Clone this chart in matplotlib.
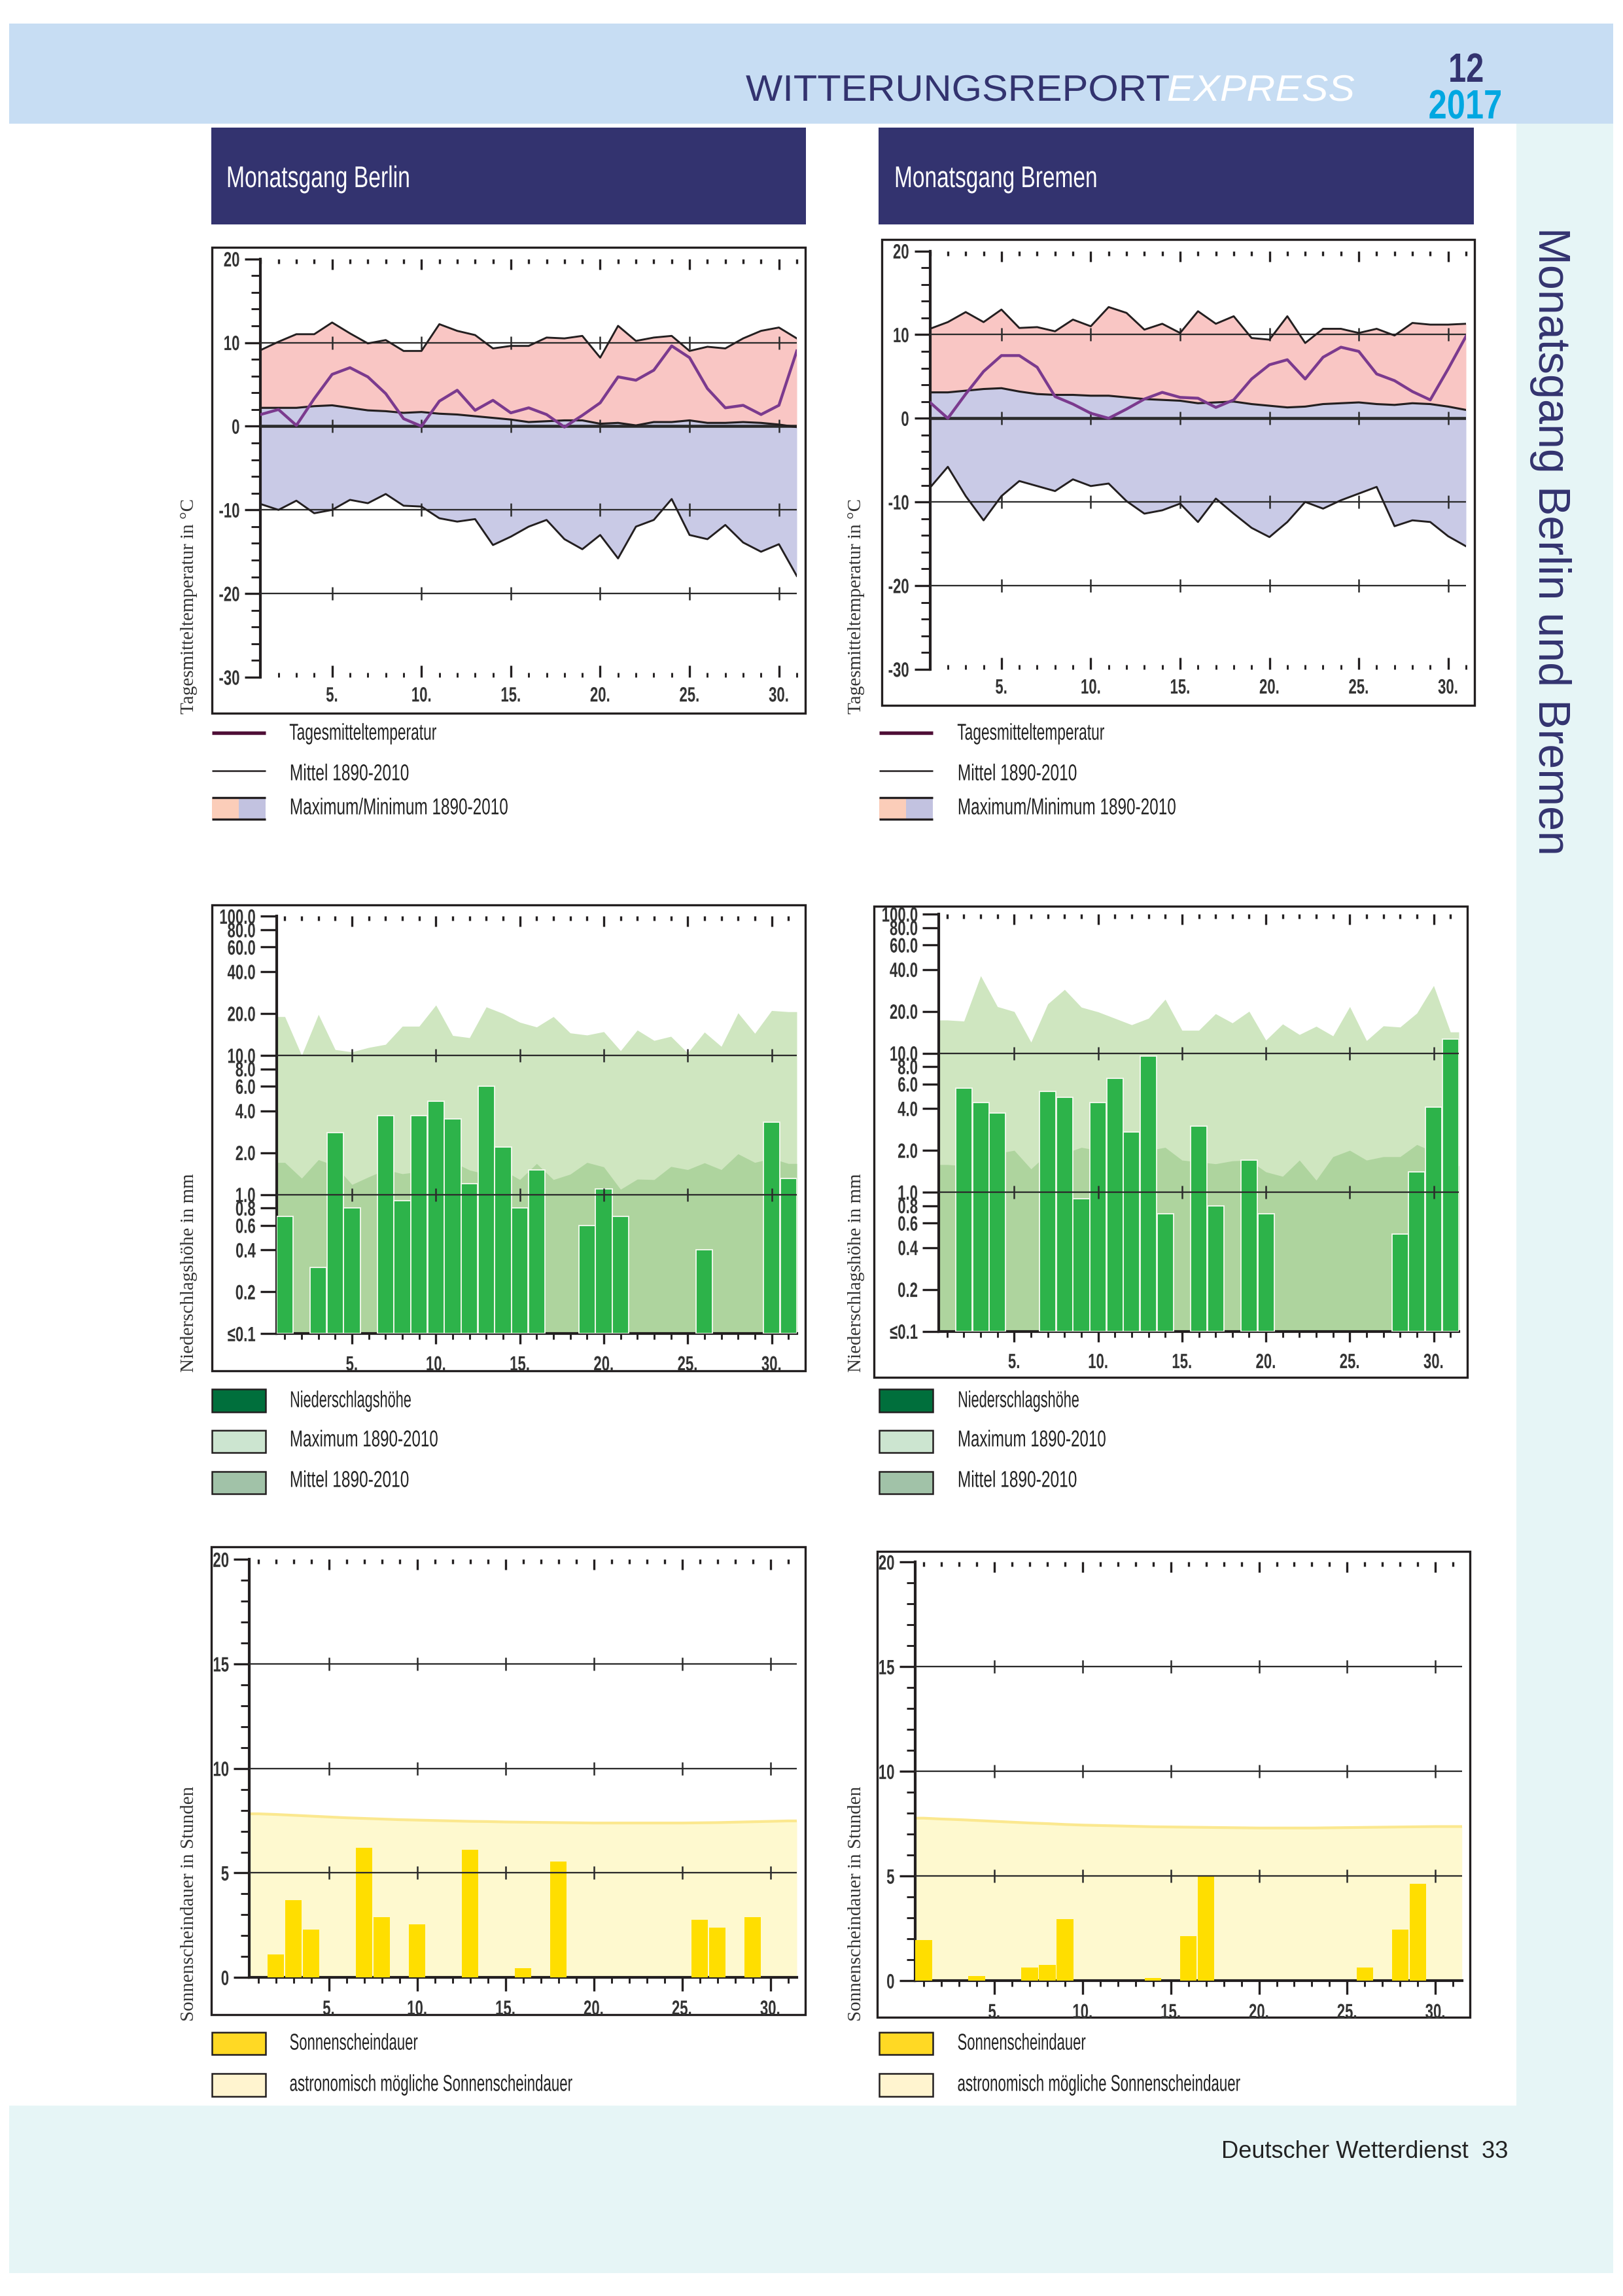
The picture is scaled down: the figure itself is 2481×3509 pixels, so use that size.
#!/usr/bin/env python3
"""Witterungsreport Express 12/2017: Monatsgang Berlin und Bremen (one page, six charts)."""
import numpy as np
import matplotlib
matplotlib.use("Agg")
import matplotlib.pyplot as plt
from matplotlib.patches import Rectangle
from matplotlib.patheffects import AbstractPathEffect
from matplotlib.transforms import Affine2D

W, H = 2481, 3509
DPI = 300
SANS = ["Liberation Sans", "DejaVu Sans"]
SERIF = ["Liberation Serif", "DejaVu Serif"]

NAVY = "#33336F"
INK = "#231F20"
PALE = "#E6F5F6"

DAYS = np.arange(1, 32)
MAJOR_DAYS = [5, 10, 15, 20, 25, 30]
MAJOR_LABELS = ["5.", "10.", "15.", "20.", "25.", "30."]
MINOR_DAYS = [d for d in DAYS if d % 5 != 0]

# temperature, deg C
ber_tmax = [9.1, 10.1, 11, 11, 12.4, 11.1, 9.9, 10.3, 9.0, 9.0, 12.2, 11.4, 10.9, 9.3, 9.6, 9.6,
            10.6, 10.5, 10.8, 8.2, 12, 10.2, 10.6, 10.8, 9.0, 9.5, 9.3, 10.5, 11.4, 11.8, 10.5]
ber_tmean = [2.2, 2.2, 2.2, 2.4, 2.5, 2.2, 1.9, 1.8, 1.6, 1.7, 1.5, 1.4, 1.2, 1.0, 0.8, 0.5,
             0.6, 0.7, 0.7, 0.3, 0.4, 0.1, 0.5, 0.5, 0.7, 0.4, 0.4, 0.5, 0.4, 0.2, -0.1]
ber_tmin = [-9.3, -10, -8.9, -10.4, -10, -8.8, -9.2, -8.1, -9.5, -9.6, -11, -11.4, -11.1, -14.2,
            -13.2, -12, -11.2, -13.5, -14.7, -13, -15.8, -12, -11.2, -8.7, -13, -13.5, -11.8,
            -13.9, -15, -14.1, -17.9]
ber_temp = [1.4, 2.0, 0.1, 3.3, 6.2, 7.0, 5.9, 3.9, 0.9, 0.0, 3.0, 4.3, 1.9, 3.1, 1.6, 2.2,
            1.4, -0.1, 1.3, 2.8, 5.9, 5.5, 6.7, 9.6, 8.2, 4.5, 2.2, 2.5, 1.4, 2.5, 9.0]

bre_tmax = [10.7, 11.5, 12.7, 11.5, 13, 10.8, 10.9, 10.4, 11.8, 11, 13.3, 12.6, 10.6, 11.3, 10.2,
            12.8, 11.3, 12.2, 9.6, 9.4, 12.2, 9, 10.7, 10.7, 10.2, 10.7, 9.9, 11.4, 11.2, 11.2, 11.3]
bre_tmean = [3.1, 3.1, 3.3, 3.5, 3.6, 3.2, 2.9, 2.8, 2.8, 2.7, 2.7, 2.5, 2.3, 2.2, 2.1, 1.8,
             1.9, 2.0, 1.7, 1.5, 1.3, 1.4, 1.7, 1.8, 1.9, 1.7, 1.6, 1.8, 1.7, 1.4, 1.0]
bre_tmin = [-8.3, -5.8, -9.3, -12.2, -9.3, -7.5, -8.1, -8.7, -7.3, -8.1, -7.8, -9.9, -11.4, -11,
            -10.2, -12.4, -9.6, -11.4, -13.1, -14.2, -12.4, -10, -10.8, -9.8, -9, -8.2, -12.9,
            -12.2, -12.4, -14.1, -15.3]
bre_temp = [1.9, 0, 2.9, 5.6, 7.5, 7.5, 6.1, 2.6, 1.7, 0.6, 0.0, 1.1, 2.3, 3.1, 2.5, 2.4,
            1.3, 2.2, 4.7, 6.4, 7, 4.7, 7.3, 8.5, 8.0, 5.3, 4.5, 3.2, 2.2, 5.9, 9.8]

# precipitation, mm (log axis); 0 = no bar
ber_rmax = [19, 10, 19.7, 11, 10.6, 11.4, 12, 16.2, 16.2, 23, 13.9, 13.4, 22.3, 20, 17.3, 16,
            19, 14.5, 14, 14.8, 10.8, 15.2, 12.8, 13.7, 10.4, 14.7, 11.6, 20.2, 14.4, 21, 20.6]
ber_rmean = [1.7, 1.31, 1.78, 1.61, 1.18, 1.34, 1.51, 1.41, 1.46, 1.6, 1.72, 1.5, 1.4, 1.5, 1.28,
             1.67, 1.28, 1.4, 1.7, 1.58, 1.09, 1.29, 1.28, 1.59, 1.51, 1.69, 1.51, 1.96, 1.7, 1.82, 1.67]
ber_rain = [0.7, 0, 0.3, 2.8, 0.8, 0, 3.7, 0.9, 3.7, 4.7, 3.5, 1.2, 6.0, 2.2, 0.8, 1.5,
            0, 0, 0.6, 1.1, 0.7, 0, 0, 0, 0, 0.4, 0, 0, 0, 3.3, 1.3]

bre_rmax = [17.3, 17, 36, 21.6, 19.9, 12, 22.6, 28.7, 21.4, 19.8, 17.8, 16, 17.8, 24.4, 14.6, 14.6,
            19.2, 16.5, 20, 12.4, 16.2, 13.6, 15.6, 13.3, 21.6, 12.3, 15.7, 15.4, 19.4, 30.6, 14.2]
bre_rmean = [1.58, 1.55, 1.77, 1.9, 2.0, 1.47, 1.9, 1.9, 2.1, 2.0, 1.77, 1.77, 2.0, 2.1, 1.7, 1.65,
             1.6, 1.68, 1.7, 1.4, 1.3, 1.7, 1.22, 1.8, 2.0, 1.7, 1.8, 1.8, 2.2, 1.95, 1.55]
bre_rain = [0, 5.6, 4.4, 3.7, 0, 0, 5.3, 4.8, 0.9, 4.4, 6.6, 2.7, 9.5, 0.7, 0, 3.0,
            0.8, 0, 1.7, 0.7, 0, 0, 0, 0, 0, 0, 0, 0.5, 1.4, 4.1, 12.6]

RAIN_TICKS = [100, 80, 60, 40, 20, 10, 8, 6, 4, 2, 1, 0.8, 0.6, 0.4, 0.2, 0.1]
RAIN_LABELS = ["100.0", "80.0", "60.0", "40.0", "20.0", "10.0", "8.0", "6.0", "4.0", "2.0",
               "1.0", "0.8", "0.6", "0.4", "0.2", "≤0.1"]

# sunshine, hours
ber_sun = [0, 1.1, 3.7, 2.3, 0, 0, 6.2, 2.9, 0, 2.55, 0, 0, 6.1, 0, 0, 0.43,
           0, 5.55, 0, 0, 0, 0, 0, 0, 0, 2.75, 2.4, 0, 2.9, 0, 0]
ber_astro = [7.83, 7.80, 7.76, 7.72, 7.68, 7.64, 7.61, 7.58, 7.55, 7.53, 7.51, 7.49, 7.47, 7.46, 7.44,
             7.43, 7.42, 7.41, 7.40, 7.39, 7.39, 7.39, 7.39, 7.39, 7.39, 7.40, 7.41, 7.43, 7.45, 7.47, 7.49]
bre_sun = [1.95, 0, 0, 0.23, 0, 0, 0.63, 0.75, 2.95, 0, 0, 0, 0, 0.14, 0, 2.13,
           4.97, 0, 0, 0, 0, 0, 0, 0, 0, 0.65, 0, 2.44, 4.65, 0, 0]
bre_astro = [7.77, 7.73, 7.70, 7.66, 7.62, 7.58, 7.54, 7.51, 7.47, 7.44, 7.42, 7.40, 7.38, 7.36, 7.35,
             7.34, 7.33, 7.32, 7.31, 7.30, 7.30, 7.30, 7.30, 7.31, 7.32, 7.33, 7.34, 7.35, 7.36, 7.37, 7.37]


class Squeeze(AbstractPathEffect):
    """No condensed font is installed, so squeeze the glyphs sideways when drawing."""

    def __init__(self, sx, anchor="left"):
        super().__init__()
        self.sx, self.anchor = sx, anchor

    def draw_path(self, renderer, gc, tpath, affine, rgbFace=None):
        ext = tpath.get_extents()
        fix = {"left": ext.x0, "center": (ext.x0 + ext.x1) / 2, "right": ext.x1}[self.anchor]
        squeeze = Affine2D().translate(-fix, 0).scale(self.sx, 1).translate(fix, 0)
        renderer.draw_path(gc, tpath, squeeze + affine, rgbFace)


fig = plt.figure(figsize=(W / DPI, H / DPI), dpi=DPI, facecolor="white")

# page layer in pixel coordinates
bg = fig.add_axes([0, 0, 1, 1])
bg.set_xlim(0, W)
bg.set_ylim(H, 0)
bg.axis("off")


def box(x0, y0, x1, y1, fc, ec="none", lw=0, z=1):
    bg.add_patch(Rectangle((x0, y0), x1 - x0, y1 - y0, facecolor=fc, edgecolor=ec, linewidth=lw, zorder=z))


def make_axes(x0, y0, x1, y1):
    ax = fig.add_axes([x0 / W, 1 - y1 / H, (x1 - x0) / W, (y1 - y0) / H])
    ax.patch.set_alpha(0)
    for s in ("top", "right"):
        ax.spines[s].set_visible(False)
    ax.spines["left"].set_linewidth(1.0)
    ax.spines["left"].set_color(INK)
    ax.spines["bottom"].set_color(INK)
    return ax


def style_labels(labels, anchor):
    for t in labels:
        t.set_family(SANS)
        t.set_weight("bold")
        t.set_path_effects([Squeeze(0.7, anchor)])


def day_ticks(ax, direction, major_len, minor_len, pad):
    ax.set_xticks(MAJOR_DAYS, labels=MAJOR_LABELS)
    ax.set_xticks(MINOR_DAYS, minor=True)
    ax.tick_params(axis="x", which="major", direction=direction, length=major_len, width=0.8,
                   pad=pad, labelsize=7.6, labelcolor="#333333", color=INK)
    ax.tick_params(axis="x", which="minor", direction=direction, length=minor_len, width=0.7, color=INK)
    style_labels(ax.get_xticklabels(), "center")
    top = ax.secondary_xaxis("top")
    top.set_xticks(MAJOR_DAYS)
    top.set_xticks(MINOR_DAYS, minor=True)
    top.tick_params(axis="x", which="major", direction="in", length=3.8, width=0.8,
                    labeltop=False, labelbottom=False, color=INK)
    top.tick_params(axis="x", which="minor", direction="in", length=1.6, width=0.8, color=INK)
    top.spines["top"].set_visible(False)


def grid_lines(ax, levels, x0, x1, heavy=()):
    for v in levels:
        ax.plot([x0, x1], [v, v], color="#2b2b2b", lw=1.1 if v in heavy else 0.55, zorder=5)
        ax.plot(MAJOR_DAYS, [v] * len(MAJOR_DAYS), ls="none", marker="|", ms=4.6, mew=0.6,
                color="#2b2b2b", zorder=5)


def temp_chart(rect, tmax, tmean, tmin, temp):
    ax = make_axes(*rect)
    ax.set_xlim(1, 31)
    ax.set_ylim(-30, 20)
    ax.fill_between(DAYS, tmean, tmax, color="#F9C6C4", lw=0, zorder=1)
    ax.fill_between(DAYS, tmin, tmean, color="#C9CAE6", lw=0, zorder=1)
    grid_lines(ax, [10, -10, -20, 0], 1, 31, heavy=(0,))
    ax.plot(DAYS, tmax, color=INK, lw=0.7, zorder=6)
    ax.plot(DAYS, tmin, color=INK, lw=0.7, zorder=6)
    ax.plot(DAYS, tmean, color=INK, lw=0.75, zorder=6)
    ax.plot(DAYS, temp, color="#7B3A8E", lw=1.05, zorder=7)
    ax.spines["bottom"].set_visible(False)
    ax.set_yticks([20, 10, 0, -10, -20, -30], labels=["20", "10", "0", "-10", "-20", "-30"])
    ax.set_yticks(np.arange(-30, 21, 2), minor=True)
    ax.tick_params(axis="y", which="major", length=5.8, width=0.8, pad=1.8, labelsize=7.6,
                   labelcolor="#333333", color=INK)
    ax.tick_params(axis="y", which="minor", length=3.4, width=0.7, color=INK)
    style_labels(ax.get_yticklabels(), "right")
    day_ticks(ax, "in", 4.4, 1.8, 3.4)


def rain_chart(rect, rmax, rmean, rain):
    ax = make_axes(*rect)
    ax.set_yscale("log")
    ax.set_xlim(0.5, 31.5)
    ax.set_ylim(0.1, 100)
    xs = np.r_[0.5, DAYS, 31.5]
    ax.fill_between(xs, 0.1, np.r_[rmax[0], rmax, rmax[-1]], color="#CFE6C0", lw=0, zorder=1)
    ax.fill_between(xs, 0.1, np.r_[rmean[0], rmean, rmean[-1]], color="#AED49E", lw=0, zorder=2)
    vals = np.array(rain, dtype=float)
    keep = vals > 0
    ax.bar(DAYS[keep], vals[keep] - 0.1, bottom=0.1, width=0.98, color="#2DB34A", edgecolor="#F2F8EC",
           linewidth=0.45, zorder=3)
    grid_lines(ax, [10, 1], 0.5, 31.5)
    ax.spines["bottom"].set_linewidth(1.0)
    ax.set_yticks(RAIN_TICKS, labels=RAIN_LABELS)
    ax.minorticks_off()
    ax.tick_params(axis="y", which="major", length=6, width=0.8, pad=1.6, labelsize=7.6,
                   labelcolor="#333333", color=INK)
    style_labels(ax.get_yticklabels(), "right")
    day_ticks(ax, "out", 3.8, 2.2, 4.2)


def sun_chart(rect, sun, astro):
    ax = make_axes(*rect)
    ax.set_xlim(0.5, 31.5)
    ax.set_ylim(0, 20)
    xs = np.r_[0.5, DAYS, 31.5]
    top = np.r_[astro[0], astro, astro[-1]]
    ax.fill_between(xs, 0, top, color="#FEF9CF", lw=0, zorder=1)
    ax.plot(xs, top, color="#FBE88F", lw=1.0, zorder=2)
    vals = np.array(sun, dtype=float)
    keep = vals > 0
    ax.bar(DAYS[keep], vals[keep], width=0.94, color="#FFDE00", edgecolor="none", zorder=3)
    grid_lines(ax, [15, 10, 5], 0.5, 31.5)
    ax.spines["bottom"].set_linewidth(1.0)
    ax.set_yticks([20, 15, 10, 5, 0], labels=["20", "15", "10", "5", "0"])
    ax.set_yticks(np.arange(0, 21, 1), minor=True)
    ax.tick_params(axis="y", which="major", length=5.8, width=0.8, pad=1.6, labelsize=7.6,
                   labelcolor="#333333", color=INK)
    ax.tick_params(axis="y", which="minor", length=3.2, width=0.7, color=INK)
    style_labels(ax.get_yticklabels(), "right")
    day_ticks(ax, "out", 5, 2.2, 3.2)


def legend_text(x, y, s, sx=0.65):
    bg.text(x, y, s, family=SANS, fontsize=8.4, color="#222222", va="center", ha="left", zorder=3,
            path_effects=[Squeeze(sx)])


def side_label(x, y, s):
    bg.text(x, y, s, family=SERIF, fontsize=7.0, color="#333333", rotation=90, ha="center", va="bottom", zorder=3)


# ---- page furniture ----
box(2318, 189, 2466, 3218, PALE, z=0)
box(14, 3218, 2466, 3474, PALE, z=0)
box(14, 36, 2466, 189, "#C7DDF3", z=0)
box(323, 195, 1232, 343, NAVY)
box(1343, 195, 2253, 343, NAVY)
bg.text(1140, 154, "WITTERUNGSREPORT", family=SANS, fontsize=13.5, color=NAVY, va="baseline",
        path_effects=[Squeeze(1.06)])
bg.text(1784, 154, "EXPRESS", family=SANS, fontsize=13.5, style="italic", color="white", va="baseline",
        path_effects=[Squeeze(1.08)])
bg.text(2241, 125, "12", family=SANS, fontsize=15, weight="bold", color=NAVY, ha="center", va="baseline",
        path_effects=[Squeeze(0.78, "center")])
bg.text(2240, 181, "2017", family=SANS, fontsize=15, weight="bold", color="#00A7E1", ha="center", va="baseline",
        path_effects=[Squeeze(0.81, "center")])
bg.text(345, 274, "Monatsgang Berlin", family=SANS, fontsize=11, color="white", va="center",
        path_effects=[Squeeze(0.735)])
bg.text(1366, 274, "Monatsgang Bremen", family=SANS, fontsize=11, color="white", va="center",
        path_effects=[Squeeze(0.73)])
bg.text(2370, 347, "Monatsgang Berlin und Bremen", family=SANS, fontsize=16.4, color=NAVY,
        rotation=-90, ha="center", va="top")
bg.text(1867, 3298, "Deutscher Wetterdienst  33", family=SANS, fontsize=8.7, color="#222222", va="baseline")

# chart frames
for x0, y0, x1, y1 in [(324, 378, 1231, 1090), (1348, 366, 2254, 1078), (324, 1383, 1231, 2095),
                       (1336, 1385, 2243, 2105), (323, 2364, 1231, 3079), (1341, 2371, 2247, 3083)]:
    box(x0, y0, x1, y1, "white", ec=INK, lw=0.8)

# ---- charts ----
temp_chart((398.4, 395.7, 1218, 1035), ber_tmax, ber_tmean, ber_tmin, ber_temp)
temp_chart((1421.6, 383.6, 2241, 1022.8), bre_tmax, bre_tmean, bre_tmin, bre_temp)
rain_chart((422.6, 1400.3, 1218, 2038.3), ber_rmax, ber_rmean, ber_rain)
rain_chart((1435, 1397, 2230, 2034.6), bre_rmax, bre_rmean, bre_rain)
sun_chart((381.2, 2383.3, 1218, 3022.2), ber_sun, ber_astro)
sun_chart((1398.6, 2387.3, 2234.7, 3027.4), bre_sun, bre_astro)

# ---- side labels and legends ----
for col, (px, lx, tx) in enumerate([(289, 324, 442), (1309, 1344, 1463)]):
    side_label(px, 1091, "Tagesmitteltemperatur in °C")
    side_label(px, 2097, "Niederschlagshöhe in mm")
    side_label(px, 3089, "Sonnenscheindauer in Stunden")

    bg.plot([lx, lx + 82], [1120, 1120], color="#4F0F37", lw=1.3, solid_capstyle="butt", zorder=3)
    bg.plot([lx, lx + 82], [1178, 1178], color=INK, lw=0.6, solid_capstyle="butt", zorder=3)
    box(lx, 1219, lx + 41, 1252, "#FBCDB9")
    box(lx + 41, 1219, lx + 82, 1252, "#C2C2E0")
    bg.plot([lx, lx + 82], [1219, 1219], color=INK, lw=0.8, solid_capstyle="butt", zorder=3)
    bg.plot([lx, lx + 82], [1252, 1252], color=INK, lw=0.8, solid_capstyle="butt", zorder=3)
    legend_text(tx, 1121, "Tagesmitteltemperatur")
    legend_text(tx, 1183, "Mittel 1890-2010", 0.70)
    legend_text(tx, 1235, "Maximum/Minimum 1890-2010", 0.695)

    box(lx, 2123, lx + 82, 2158, "#006F3C", ec=INK, lw=0.6)
    box(lx, 2186, lx + 82, 2220, "#CCE5D0", ec=INK, lw=0.6)
    box(lx, 2249, lx + 82, 2283, "#A1C2A8", ec=INK, lw=0.6)
    legend_text(tx, 2141, "Niederschlagshöhe", 0.62)
    legend_text(tx, 2201, "Maximum 1890-2010", 0.69)
    legend_text(tx, 2263, "Mittel 1890-2010", 0.70)

    box(lx, 3106, lx + 82, 3140, "#FFD924", ec=INK, lw=0.6)
    box(lx, 3169, lx + 82, 3204, "#FFF4CF", ec=INK, lw=0.6)
    legend_text(tx, 3123, "Sonnenscheindauer", 0.63)
    legend_text(tx, 3186, "astronomisch mögliche Sonnenscheindauer", 0.637)

bg.set_xlim(0, W)
bg.set_ylim(H, 0)
fig.savefig("out.png", dpi=DPI)
